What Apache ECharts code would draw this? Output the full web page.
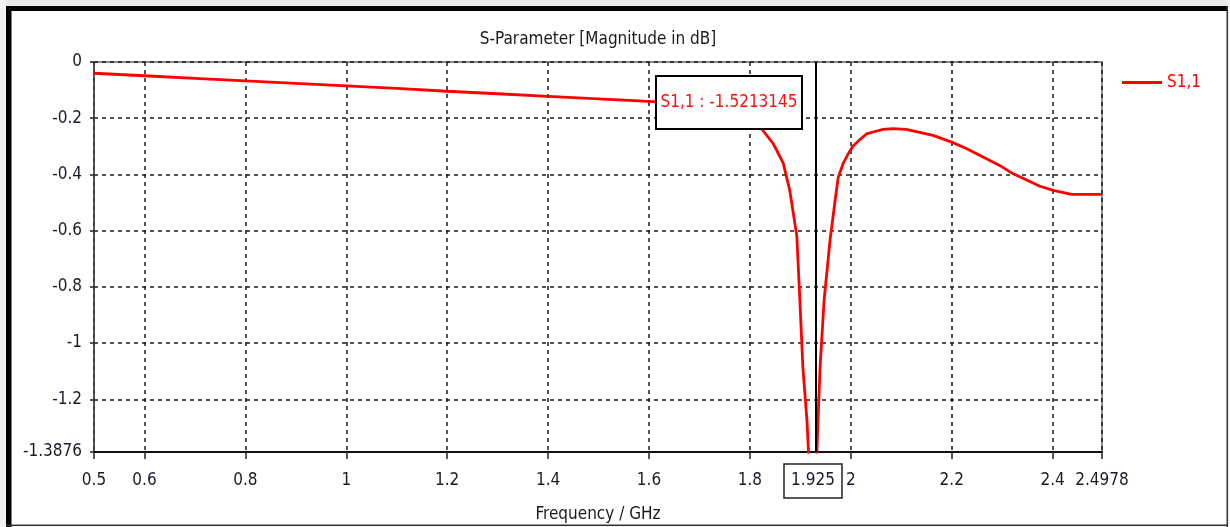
<!DOCTYPE html>
<html>
<head>
<meta charset="utf-8">
<script src="https://cdn.jsdelivr.net/npm/echarts@6.0.0/dist/echarts.min.js"></script>
<style>
  html, body { margin: 0; padding: 0; background: #ffffff; }
  #chart { width: 1230px; height: 527px; }
</style>
</head>
<body>
<div id="chart"></div>
<script>
// ---- data ----
const freqGHz = [0.5, 0.6, 0.7, 0.8, 0.9, 1.0, 1.1, 1.2, 1.3, 1.4, 1.5, 1.6, 1.65, 1.7, 1.75, 1.78, 1.8, 1.824, 1.833, 1.846, 1.853, 1.866, 1.879, 1.893, 1.899, 1.905, 1.913, 1.917, 1.925, 1.932, 1.939, 1.947, 1.959, 1.969, 1.975, 1.985, 1.995, 2.004, 2.018, 2.031, 2.044, 2.064, 2.083, 2.11, 2.163, 2.2, 2.229, 2.262, 2.295, 2.321, 2.375, 2.401, 2.438, 2.4978];
const s11dB = [-0.040, -0.049, -0.058, -0.067, -0.076, -0.085, -0.094, -0.104, -0.113, -0.122, -0.131, -0.140, -0.145, -0.153, -0.168, -0.185, -0.205, -0.24, -0.26, -0.29, -0.314, -0.36, -0.457, -0.62, -0.848, -1.087, -1.275, -1.42, -1.52, -1.42, -1.087, -0.848, -0.63, -0.49, -0.41, -0.36, -0.326, -0.30, -0.276, -0.256, -0.249, -0.24, -0.237, -0.240, -0.261, -0.285, -0.308, -0.338, -0.368, -0.397, -0.442, -0.457, -0.471, -0.471];
const xTicks = [0.5, 0.6, 0.8, 1, 1.2, 1.4, 1.6, 1.8, 2, 2.2, 2.4, 2.4978];
const yTicks = [0, -0.2, -0.4, -0.6, -0.8, -1, -1.2, -1.3876];
const xMin = 0.5, xMax = 2.4978, yMin = -1.3876, yMax = 0;
const markerFreq = 1.925;
const markerText = 'S1,1 : -1.5213145';
const markerFreqText = '1.925';
const seriesName = 'S1,1';
const titleText = 'S-Parameter [Magnitude in dB]';
const xName = 'Frequency / GHz';

const FONT = '"DejaVu Sans Condensed", "Liberation Sans", sans-serif';
const FS = 17;
const data = freqGHz.map((f, i) => [f, s11dB[i]]);

const chart = echarts.init(document.getElementById('chart'), null, { renderer: 'canvas' });

const option = {
  backgroundColor: '#ffffff',
  animation: false,
  title: {
    text: titleText,
    left: 598,
    textAlign: 'center',
    top: 31,
    padding: 0,
    textStyle: { fontFamily: FONT, fontSize: FS, fontWeight: 'normal', color: '#1a1a1a' }
  },
  legend: {
    left: 1122,
    top: 74,
    padding: 0,
    itemWidth: 40,
    itemHeight: 3,
    icon: 'rect',
    data: [seriesName],
    itemStyle: { color: '#ff0000' },
    textStyle: { fontFamily: FONT, fontSize: FS, color: '#ff0000' }
  },
  grid: {
    left: 94, top: 62, right: 128, bottom: 75,
    show: true,
    borderColor: '#666666',
    borderWidth: 1.5,
    backgroundColor: '#ffffff',
    outerBoundsMode: 'none',
    containLabel: false
  },
  xAxis: {
    type: 'value',
    min: xMin,
    max: xMax,
    name: xName,
    nameLocation: 'middle',
    nameGap: 54,
    nameTextStyle: { fontFamily: FONT, fontSize: FS, color: '#1a1a1a' },
    axisLine: { show: true, onZero: false, lineStyle: { color: '#111111', width: 2 } },
    axisTick: { show: true, length: 7, customValues: xTicks, lineStyle: { color: '#222222', width: 1.5 } },
    axisLabel: {
      customValues: xTicks,
      margin: 20,
      fontFamily: FONT, fontSize: FS, color: '#1a1a2a',
      hideOverlap: false,
      showMinLabel: true, showMaxLabel: true,
      formatter: v => String(v)
    },
    splitLine: { show: true, lineStyle: { color: '#1a1a1a', width: 1.5, type: [4, 4] } }
  },
  yAxis: {
    type: 'value',
    min: yMin,
    max: yMax,
    axisLine: { show: true, onZero: false, lineStyle: { color: '#444444', width: 1.5 } },
    axisTick: { show: true, length: 4, customValues: yTicks, lineStyle: { color: '#222222', width: 1.5 } },
    axisLabel: {
      customValues: yTicks,
      margin: 12,
      fontFamily: FONT, fontSize: FS, color: '#1a1a2a',
      hideOverlap: false,
      showMinLabel: true, showMaxLabel: true,
      formatter: v => String(v)
    },
    splitLine: { show: true, lineStyle: { color: '#1a1a1a', width: 1.5, type: [4, 4] } }
  },
  series: [{
    name: seriesName,
    type: 'line',
    data: data,
    symbol: 'none',
    smooth: false,
    clip: true,
    lineStyle: { color: '#ff0000', width: 2.8 },
    itemStyle: { color: '#ff0000' },
    markLine: {
      silent: true,
      symbol: ['none', 'none'],
      label: { show: false },
      lineStyle: { color: '#000000', width: 2, type: 'solid' },
      data: [{ xAxis: markerFreq }]
    },
    z: 3
  }]
};

chart.setOption(option);

// annotations placed from the marker's data position
const mx = chart.convertToPixel({ xAxisIndex: 0 }, markerFreq);
const yTopPx = chart.convertToPixel({ yAxisIndex: 0 }, yMax);
const yBotPx = chart.convertToPixel({ yAxisIndex: 0 }, yMin);

const boxW = 146, boxH = 53;
const boxRight = mx - 11;
const boxTop = yTopPx + 14;

const fW = 58, fH = 34;
const fTop = yBotPx + 12;

chart.setOption({
  graphic: [
    // value box
    { type: 'rect', z: 100, shape: { x: boxRight - boxW, y: boxTop, width: boxW, height: boxH },
      style: { fill: '#ffffff', stroke: '#000000', lineWidth: 2 } },
    { type: 'text', z: 101, x: boxRight - boxW / 2, y: boxTop + boxH / 2,
      style: { text: markerText, fill: '#ff1010', font: FS + 'px ' + FONT, align: 'center', verticalAlign: 'middle' } },
    // frequency box
    { type: 'rect', z: 100, shape: { x: mx - fW / 2, y: fTop, width: fW, height: fH },
      style: { fill: '#ffffff', stroke: '#222222', lineWidth: 1.5 } },
    { type: 'text', z: 101, x: mx, y: fTop + fH / 2,
      style: { text: markerFreqText, fill: '#1a1a2a', font: FS + 'px ' + FONT, align: 'center', verticalAlign: 'middle' } },
    // outer frame
    { type: 'rect', z: 110, shape: { x: 0, y: 0, width: 1230, height: 6 }, style: { fill: '#e8e8e8' } },
    { type: 'rect', z: 110, shape: { x: 0, y: 0, width: 6, height: 527 }, style: { fill: '#f2f2f2' } },
    { type: 'rect', z: 111, shape: { x: 6, y: 6, width: 1222, height: 5 }, style: { fill: '#000000' } },
    { type: 'rect', z: 111, shape: { x: 6, y: 6, width: 5.5, height: 521 }, style: { fill: '#000000' } },
    { type: 'rect', z: 111, shape: { x: 1226.5, y: 6, width: 1.5, height: 521 }, style: { fill: '#333333' } },
    { type: 'rect', z: 111, shape: { x: 6, y: 524.5, width: 1222, height: 1.5 }, style: { fill: '#333333' } },
    { type: 'rect', z: 110, shape: { x: 1228, y: 0, width: 2, height: 527 }, style: { fill: '#f2f2f2' } },
    { type: 'rect', z: 110, shape: { x: 0, y: 526, width: 1230, height: 1 }, style: { fill: '#f2f2f2' } }
  ]
});
</script>
</body>
</html>
